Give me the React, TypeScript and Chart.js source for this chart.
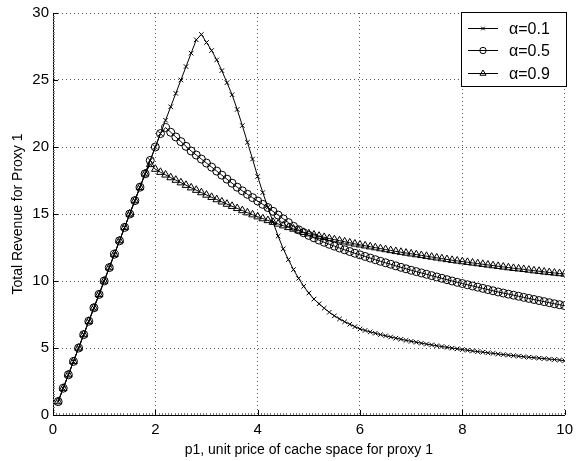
import React, { useEffect, useRef } from "react";
import { Chart, registerables } from "chart.js";

Chart.register(...registerables);

const FONT = "'Liberation Sans', Arial, Helvetica, sans-serif";

const xValues = [
  0.1, 0.2, 0.3, 0.4, 0.5, 0.6, 0.7, 0.8, 0.9, 1.0,
  1.1, 1.2, 1.3, 1.4, 1.5, 1.6, 1.7, 1.8, 1.9, 2.0,
  2.1, 2.2, 2.3, 2.4, 2.5, 2.6, 2.7, 2.8, 2.9, 3.0,
  3.1, 3.2, 3.3, 3.4, 3.5, 3.6, 3.7, 3.8, 3.9, 4.0,
  4.1, 4.2, 4.3, 4.4, 4.5, 4.6, 4.7, 4.8, 4.9, 5.0,
  5.1, 5.2, 5.3, 5.4, 5.5, 5.6, 5.7, 5.8, 5.9, 6.0,
  6.1, 6.2, 6.3, 6.4, 6.5, 6.6, 6.7, 6.8, 6.9, 7.0,
  7.1, 7.2, 7.3, 7.4, 7.5, 7.6, 7.7, 7.8, 7.9, 8.0,
  8.1, 8.2, 8.3, 8.4, 8.5, 8.6, 8.7, 8.8, 8.9, 9.0,
  9.1, 9.2, 9.3, 9.4, 9.5, 9.6, 9.7, 9.8, 9.9, 10.0,
];

const alpha01 = [
  1, 2, 3, 4, 5, 6, 7, 8, 9, 10,
  11, 12, 13, 14, 15, 16, 17, 18, 19, 20,
  21, 22, 23, 24, 25, 26, 27, 28, 28.4, 27.8,
  27.2, 26.5, 25.7, 24.8, 23.9, 22.8, 21.6, 20.35, 19.1, 17.8,
  16.6, 15.5, 14.4, 13.35, 12.4, 11.6, 10.85, 10.2, 9.6, 9.1,
  8.65, 8.3, 7.97, 7.67, 7.4, 7.17, 6.96, 6.77, 6.59, 6.42,
  6.31, 6.2, 6.1, 6.0, 5.91, 5.82, 5.73, 5.65, 5.57, 5.5,
  5.43, 5.36, 5.29, 5.23, 5.17, 5.11, 5.05, 4.99, 4.94, 4.88,
  4.83, 4.78, 4.73, 4.69, 4.64, 4.6, 4.55, 4.51, 4.47, 4.43,
  4.39, 4.35, 4.31, 4.28, 4.24, 4.21, 4.17, 4.14, 4.1, 4.05,
];

const alpha05 = [
  1, 2, 3, 4, 5, 6, 7, 8, 9, 10,
  11, 12, 13, 14, 15, 16, 17, 18, 19, 20,
  21, 21.45, 21.1, 20.75, 20.4, 20.05, 19.7, 19.4, 19.1, 18.8,
  18.5, 18.2, 17.9, 17.6, 17.3, 17.0, 16.73, 16.47, 16.22, 15.97,
  15.72, 15.48, 15.2, 14.92, 14.64, 14.36, 14.08, 13.82, 13.6, 13.4,
  13.22, 13.05, 12.89, 12.74, 12.6, 12.46, 12.33, 12.2, 12.07, 11.95,
  11.83, 11.71, 11.59, 11.47, 11.36, 11.25, 11.13, 11.02, 10.91, 10.8,
  10.7, 10.6, 10.5, 10.4, 10.3, 10.2, 10.1, 10.0, 9.9, 9.81,
  9.72, 9.63, 9.54, 9.45, 9.36, 9.27, 9.18, 9.1, 9.02, 8.94,
  8.86, 8.78, 8.7, 8.62, 8.54, 8.46, 8.38, 8.3, 8.23, 8.16,
];

const alpha09 = [
  1, 2, 3, 4, 5, 6, 7, 8, 9, 10,
  11, 12, 13, 14, 15, 16, 17, 18, 18.7, 18.35,
  18.12, 17.92, 17.72, 17.53, 17.34, 17.15, 16.96, 16.78, 16.6, 16.42,
  16.25, 16.08, 15.91, 15.74, 15.58, 15.42, 15.26, 15.1, 14.95, 14.8,
  14.66, 14.52, 14.39, 14.26, 14.13, 14.0, 13.88, 13.76, 13.64, 13.53,
  13.44, 13.35, 13.26, 13.17, 13.09, 13.01, 12.93, 12.85, 12.77, 12.7,
  12.63, 12.56, 12.49, 12.42, 12.35, 12.28, 12.21, 12.15, 12.09, 12.03,
  11.97, 11.91, 11.85, 11.79, 11.73, 11.67, 11.61, 11.55, 11.5, 11.45,
  11.4, 11.35, 11.3, 11.25, 11.2, 11.15, 11.1, 11.05, 11.0, 10.95,
  10.91, 10.87, 10.82, 10.77, 10.73, 10.68, 10.64, 10.6, 10.56, 10.52,
];

const seriesLabels = ["\u03b1=0.1", "\u03b1=0.5", "\u03b1=0.9"];
const seriesStyles = ["crossRot", "circle", "triangle"];
const seriesRadius = [3.2, 4, 4.4];
const xTicks = [0, 2, 4, 6, 8, 10];
const yTicks = [0, 5, 10, 15, 20, 25, 30];
const xTitle = "p1, unit price of cache space for proxy 1";
const yTitle = "Total Revenue for Proxy 1";

function drawMarker(ctx: CanvasRenderingContext2D, style: string, r: number, x: number, y: number) {
  ctx.beginPath();
  if (style === "circle") {
    ctx.arc(x, y, r, 0, Math.PI * 2);
  } else if (style === "triangle") {
    let rad = 0;
    ctx.moveTo(x + Math.sin(rad) * r, y - Math.cos(rad) * r);
    rad += (2 * Math.PI) / 3;
    ctx.lineTo(x + Math.sin(rad) * r, y - Math.cos(rad) * r);
    rad += (2 * Math.PI) / 3;
    ctx.lineTo(x + Math.sin(rad) * r, y - Math.cos(rad) * r);
    ctx.closePath();
  } else {
    const d = Math.cos(Math.PI / 4) * r;
    ctx.moveTo(x - d, y - d);
    ctx.lineTo(x + d, y + d);
    ctx.moveTo(x - d, y + d);
    ctx.lineTo(x + d, y - d);
  }
  ctx.stroke();
}

const axisPlugin = {
  id: "matlabAxes",
  afterDraw(chart: any) {
    const ctx: CanvasRenderingContext2D = chart.ctx;
    const xs = chart.scales.x;
    const ys = chart.scales.y;
    const { left, bottom } = chart.chartArea;
    ctx.save();
    // minor ticks
    ctx.strokeStyle = "#777";
    ctx.lineWidth = 1;
    ctx.beginPath();
    for (let v = 0; v <= 10.0001; v += 0.0625) {
      const px = Math.round(xs.getPixelForValue(v)) + 0.5;
      ctx.moveTo(px, bottom);
      ctx.lineTo(px, bottom - 2);
    }
    for (let v = 0; v <= 30.0001; v += 0.2) {
      const py = Math.round(ys.getPixelForValue(v)) + 0.5;
      ctx.moveTo(left, py);
      ctx.lineTo(left + 2, py);
    }
    ctx.stroke();
    // major ticks (inward)
    ctx.strokeStyle = "#000";
    ctx.beginPath();
    xTicks.forEach((v) => {
      const px = Math.round(xs.getPixelForValue(v)) + 0.5;
      ctx.moveTo(px, bottom);
      ctx.lineTo(px, bottom - 5);
    });
    yTicks.forEach((v) => {
      const py = Math.round(ys.getPixelForValue(v)) + 0.5;
      ctx.moveTo(left, py);
      ctx.lineTo(left + 5, py);
    });
    ctx.stroke();

    // legend
    const bx = 461.5, by = 12.5, bw = 105, bh = 74;
    ctx.fillStyle = "#fff";
    ctx.fillRect(bx, by, bw, bh);
    ctx.strokeStyle = "#000";
    ctx.lineWidth = 1;
    ctx.strokeRect(bx, by, bw, bh);
    ctx.font = `16px ${FONT}`;
    ctx.textBaseline = "middle";
    ctx.textAlign = "left";
    for (let i = 0; i < seriesLabels.length; i++) {
      const cy = Math.round(27.5 + i * 22.5) + 0.5;
      ctx.beginPath();
      ctx.moveTo(468, cy);
      ctx.lineTo(498, cy);
      ctx.stroke();
      drawMarker(ctx, seriesStyles[i], seriesRadius[i] * 0.8, 483, cy);
      ctx.fillStyle = "#000";
      ctx.fillText(seriesLabels[i], 509, cy + 1);
    }
    ctx.restore();
  },
};

export default function App() {
  const ref = useRef<HTMLCanvasElement | null>(null);
  useEffect(() => {
    if (!ref.current) return;
    const mk = (arr: number[]) => xValues.map((x, i) => ({ x, y: arr[i] }));
    const sets = [alpha01, alpha05, alpha09].map((arr, i) => ({
      label: seriesLabels[i],
      data: mk(arr),
      borderColor: "#000",
      borderWidth: 1,
      pointStyle: seriesStyles[i] as any,
      pointRadius: seriesRadius[i],
      pointBorderWidth: 1,
      pointBorderColor: "#000",
      pointBackgroundColor: "rgba(0,0,0,0)",
      fill: false,
      tension: 0,
    }));
    const chart = new Chart(ref.current, {
      type: "line",
      data: { datasets: sets as any },
      options: {
        animation: false,
        responsive: false,
        devicePixelRatio: 1,
        layout: { padding: { top: 6, right: 8, left: 0, bottom: 0 } },
        plugins: { legend: { display: false }, tooltip: { enabled: false } },
        scales: {
          x: {
            type: "linear",
            min: 0,
            max: 10,
            afterBuildTicks: (s: any) => {
              s.ticks = xTicks.map((v) => ({ value: v }));
            },
            afterFit: (s: any) => {
              s.height = 46;
            },
            ticks: { color: "#000", font: { family: FONT, size: 15 }, padding: 6, maxRotation: 0 },
            grid: { color: "#555", drawTicks: false, lineWidth: 1 },
            border: { display: true, color: "#000", width: 1, dash: [1, 3] },
            title: {
              display: true,
              text: xTitle,
              color: "#000",
              font: { family: FONT, size: 14 },
              padding: { top: 0, bottom: 2 },
            },
          },
          y: {
            type: "linear",
            min: 0,
            max: 30,
            afterBuildTicks: (s: any) => {
              s.ticks = yTicks.map((v) => ({ value: v }));
            },
            afterFit: (s: any) => {
              s.width = 53;
            },
            ticks: { color: "#000", font: { family: FONT, size: 15 }, padding: 4 },
            grid: { color: "#555", drawTicks: false, lineWidth: 1 },
            border: { display: true, color: "#000", width: 1, dash: [1, 3] },
            title: {
              display: true,
              text: yTitle,
              color: "#000",
              font: { family: FONT, size: 14 },
              padding: { top: 10, bottom: 0 },
            },
          },
        },
      },
      plugins: [axisPlugin],
    });
    return () => chart.destroy();
  }, []);
  return (
    <div style={{ position: "fixed", left: 0, top: 0, width: 579, height: 461, background: "#fff" }}>
      <canvas ref={ref} width={579} height={461} style={{ display: "block", width: 579, height: 461 }} />
    </div>
  );
}
